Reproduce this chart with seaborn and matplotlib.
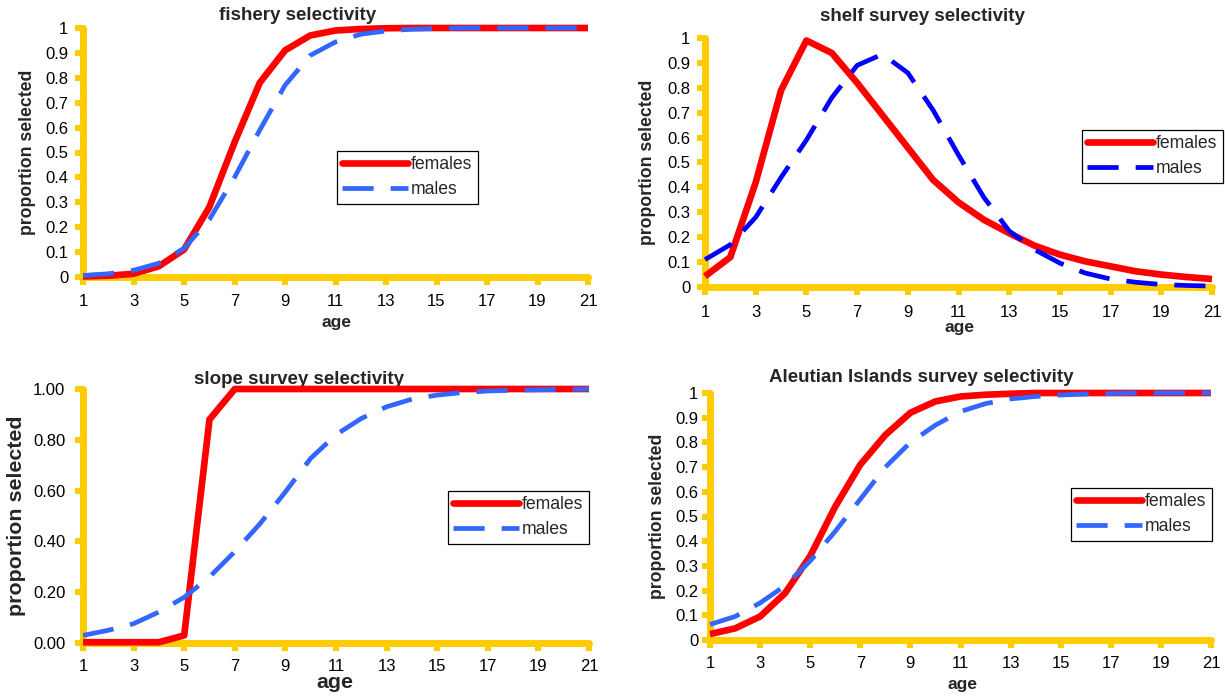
import matplotlib
matplotlib.use("Agg")
import matplotlib.pyplot as plt
import seaborn as sns
from matplotlib.ticker import FixedLocator, FuncFormatter

# ---- data: selectivity at age -------------------------------------------
ages = list(range(1, 22))
age_ticks = list(range(1, 22, 2))

fishery_females = [0.002, 0.005, 0.013, 0.043, 0.11, 0.28, 0.54, 0.78, 0.91, 0.97, 0.99,
                   0.996, 0.999, 1.0, 1.0, 1.0, 1.0, 1.0, 1.0, 1.0, 1.0]
fishery_males = [0.006, 0.013, 0.027, 0.055, 0.115, 0.23, 0.40, 0.59, 0.77, 0.89, 0.944,
                 0.975, 0.988, 0.995, 0.998, 1.0, 1.0, 1.0, 1.0, 1.0, 1.0]

shelf_females = [0.043, 0.12, 0.42, 0.79, 0.99, 0.94, 0.82, 0.69, 0.56, 0.43, 0.34,
                 0.27, 0.216, 0.166, 0.13, 0.103, 0.083, 0.063, 0.05, 0.04, 0.032]
shelf_males = [0.11, 0.17, 0.28, 0.44, 0.59, 0.76, 0.89, 0.935, 0.86, 0.71, 0.53,
               0.36, 0.225, 0.15, 0.096, 0.056, 0.032, 0.019, 0.01, 0.006, 0.004]

slope_females = [0.003, 0.003, 0.003, 0.003, 0.03, 0.88, 1.0, 1.0, 1.0, 1.0, 1.0,
                 1.0, 1.0, 1.0, 1.0, 1.0, 1.0, 1.0, 1.0, 1.0, 1.0]
slope_males = [0.03, 0.05, 0.076, 0.122, 0.18, 0.26, 0.36, 0.47, 0.595, 0.727, 0.82,
               0.884, 0.93, 0.96, 0.976, 0.986, 0.992, 0.995, 0.997, 0.999, 1.0]

aleutian_females = [0.024, 0.047, 0.095, 0.19, 0.34, 0.54, 0.71, 0.83, 0.92, 0.966, 0.986,
                    0.993, 0.997, 1.0, 1.0, 1.0, 1.0, 1.0, 1.0, 1.0, 1.0]
aleutian_males = [0.063, 0.095, 0.15, 0.22, 0.32, 0.44, 0.57, 0.70, 0.80, 0.87, 0.925,
                  0.957, 0.976, 0.986, 0.992, 0.996, 0.998, 1.0, 1.0, 1.0, 1.0]

tenths = [i / 10 for i in range(11)]
fifths = [i / 5 for i in range(6)]

# ---- figure ---------------------------------------------------------------
W, H, DPI = 1225, 698, 100
GOLD = "#FFCC00"
RED = "#FF0000"
LIGHT_BLUE = "#3366FF"
DEEP_BLUE = "#0000FF"

sns.set_style("white")
plt.rcParams["font.family"] = ["Liberation Sans", "DejaVu Sans"]

fig = plt.figure(figsize=(W / DPI, H / DPI), dpi=DPI)
fig.patch.set_facecolor("white")

# pixel layout: axes box (left, top, right, bottom), label anchors
panels = [
    dict(title="fishery selectivity", fem=fishery_females, mal=fishery_males,
         male_color=LIGHT_BLUE, box=(83, 28, 588, 277), title_xy=(298, 16),
         ylab_x=28, xlab_xy=(337, 323), leg_xy=(337, 151), yticks=tenths,
         fmt="{:g}", ylab_size=12.7, xlab_size=12.5, ypad=5.0, xpad=6.5),
    dict(title="shelf survey selectivity", fem=shelf_females, mal=shelf_males,
         male_color=DEEP_BLUE, box=(705, 38, 1212, 287), title_xy=(922, 17),
         ylab_x=648, xlab_xy=(959, 328), leg_xy=(1082, 130), yticks=tenths,
         fmt="{:g}", ylab_size=12.7, xlab_size=12.5, ypad=5.0, xpad=7.5),
    dict(title="slope survey selectivity", fem=slope_females, mal=slope_males,
         male_color=LIGHT_BLUE, box=(83, 389, 589, 643), title_xy=(299, 379),
         ylab_x=17, xlab_xy=(335, 682), leg_xy=(448, 491), yticks=fifths,
         fmt="{:.2f}", ylab_size=15.4, xlab_size=15.4, ypad=7.2, xpad=5.7),
    dict(title="Aleutian Islands survey selectivity", fem=aleutian_females,
         mal=aleutian_males, male_color=LIGHT_BLUE, box=(710, 393, 1211, 640),
         title_xy=(921, 378), ylab_x=657, xlab_xy=(962, 684), leg_xy=(1071, 488),
         yticks=tenths, fmt="{:g}", ylab_size=12.7, xlab_size=12.5, ypad=3.0, xpad=6.3),
]

for p in panels:
    l, t, r, b = p["box"]
    ax = fig.add_axes([l / W, 1 - b / H, (r - l) / W, (b - t) / H])
    ax.set_facecolor("none")

    def fx(px):
        return (px - l) / (r - l)

    def fy(py):
        return (b - py) / (b - t)

    sns.lineplot(x=ages, y=p["fem"], ax=ax, color=RED, linewidth=4.8,
                 solid_capstyle="butt", solid_joinstyle="round",
                 label="females", clip_on=False, zorder=4)
    sns.lineplot(x=ages, y=p["mal"], ax=ax, color=p["male_color"], linewidth=3.4,
                 linestyle=(0, (6.6, 3.6)), dash_capstyle="butt",
                 dash_joinstyle="round", label="males", clip_on=False, zorder=5)

    ax.set_xlim(1, 21)
    ax.set_ylim(0, 1)
    ax.xaxis.set_major_locator(FixedLocator(age_ticks))
    ax.yaxis.set_major_locator(FixedLocator(p["yticks"]))
    ax.yaxis.set_major_formatter(FuncFormatter(lambda v, pos, f=p["fmt"]: f.format(v)))

    for side in ("top", "right"):
        ax.spines[side].set_visible(False)
    for side in ("left", "bottom"):
        sp = ax.spines[side]
        sp.set_color(GOLD)
        sp.set_linewidth(5)
        sp.set_capstyle("round")
        sp.set_zorder(1)

    ax.tick_params(axis="both", which="major", direction="out", length=5.5,
                   width=4.3, color=GOLD, labelsize=12, labelcolor="black",
                   bottom=True, left=True, top=False, right=False)
    ax.tick_params(axis="y", pad=p["ypad"])
    ax.tick_params(axis="x", pad=p["xpad"])

    ax.set_xlabel("age", fontsize=p["xlab_size"], fontweight="bold")
    ax.xaxis.set_label_coords(fx(p["xlab_xy"][0]), fy(p["xlab_xy"][1]))
    ax.xaxis.label.set_va("center")

    ax.set_ylabel("proportion selected", fontsize=p["ylab_size"], fontweight="bold")
    ax.yaxis.set_label_coords(fx(p["ylab_x"]), 0.5)
    ax.yaxis.label.set_va("center")

    ax.set_title(p["title"], fontsize=13.5, fontweight="bold", pad=0,
                 y=fy(p["title_xy"][1]), x=fx(p["title_xy"][0]), va="center")

    lx, ly = p["leg_xy"]
    leg = ax.legend(loc="upper left", bbox_to_anchor=(lx / W, 1 - ly / H),
                    bbox_transform=fig.transFigure, borderaxespad=0,
                    frameon=True, fancybox=False, framealpha=1, edgecolor="black",
                    fontsize=12.7, handlelength=3.75, handletextpad=0.15,
                    borderpad=0.3, labelspacing=0.45)
    leg.get_frame().set_linewidth(0.9)
    leg.legend_handles[0].set_solid_capstyle("round")
    leg.set_zorder(10)

fig.savefig("out.png", dpi=DPI, facecolor="white")
